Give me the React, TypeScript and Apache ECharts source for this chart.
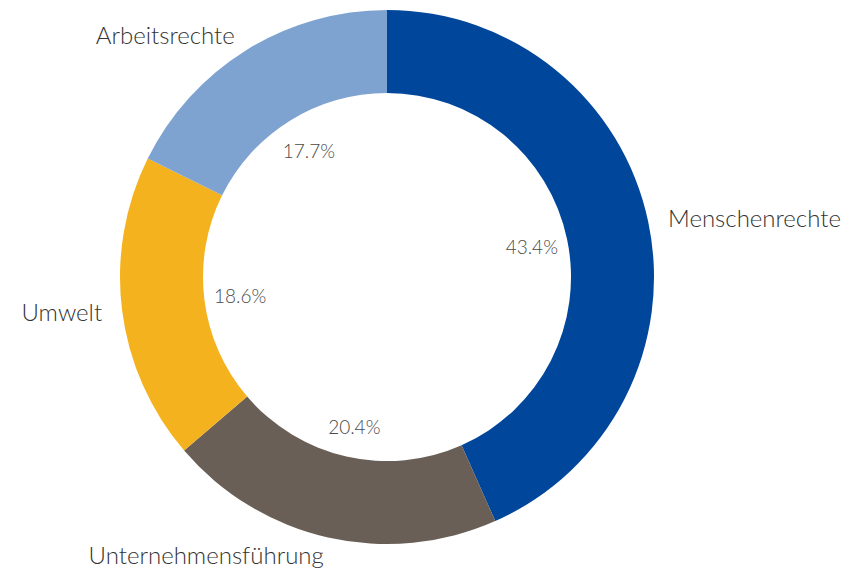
import React, { useEffect, useRef } from "react";
import * as echarts from "echarts";

const categories = ["Menschenrechte", "Unternehmensführung", "Umwelt", "Arbeitsrechte"];
const shares = [43.4, 20.4, 18.6, 17.7];
const colors = ["#00469b", "#6a5f56", "#f4b31e", "#7fa3d1"];

// per-slice label placement tweaks (outside name labels)
const nameLabelLen = [10, 19, 10, 14];
const nameLabelLen2 = [10, 0, 10, 4];
const nameLabelDy = [-2, -1, 0, -4];
const pctLabelDy = [0, 5, 0, -1];

export default function App() {
  const ref = useRef<HTMLDivElement>(null);
  useEffect(() => {
    if (!ref.current) return;
    const chart = echarts.init(ref.current, undefined, { renderer: "svg" });
    const center = [387, 277];
    chart.setOption({
      animation: false,
      backgroundColor: "#ffffff",
      series: [
        {
          type: "pie",
          radius: [184, 267],
          center,
          startAngle: 90,
          clockwise: true,
          avoidLabelOverlap: false,
          silent: true,
          emphasis: { disabled: true },
          label: {
            show: true,
            position: "outside",
            formatter: "{b}",
            fontFamily: "Lato",
            fontWeight: 300,
            fontSize: 24,
            color: "#333333",
            distanceToLabelLine: 0,
          },
          labelLine: { show: false },
          labelLayout: (p: any) => ({ dy: nameLabelDy[p.dataIndex] }),
          data: categories.map((name, i) => ({
            name,
            value: shares[i],
            itemStyle: { color: colors[i] },
            labelLine: { show: false, length: nameLabelLen[i], length2: nameLabelLen2[i] },
          })),
        },
        {
          type: "pie",
          radius: [100, 190],
          center,
          startAngle: 90,
          clockwise: true,
          avoidLabelOverlap: false,
          silent: true,
          emphasis: { disabled: true },
          z: 3,
          itemStyle: { color: "transparent" },
          label: {
            show: true,
            position: "inner",
            formatter: (p: any) => `${(p.value as number).toFixed(1)}%`,
            fontFamily: "Lato",
            fontWeight: 300,
            fontSize: 19,
            color: "#4a4a4a",
          },
          labelLine: { show: false },
          labelLayout: (p: any) => ({ dy: pctLabelDy[p.dataIndex] }),
          data: categories.map((name, i) => ({ name, value: shares[i] })),
        },
      ],
    });
    return () => chart.dispose();
  }, []);
  return (
    <div
      ref={ref}
      style={{ position: "absolute", left: 0, top: 0, width: 852, height: 571 }}
    />
  );
}
